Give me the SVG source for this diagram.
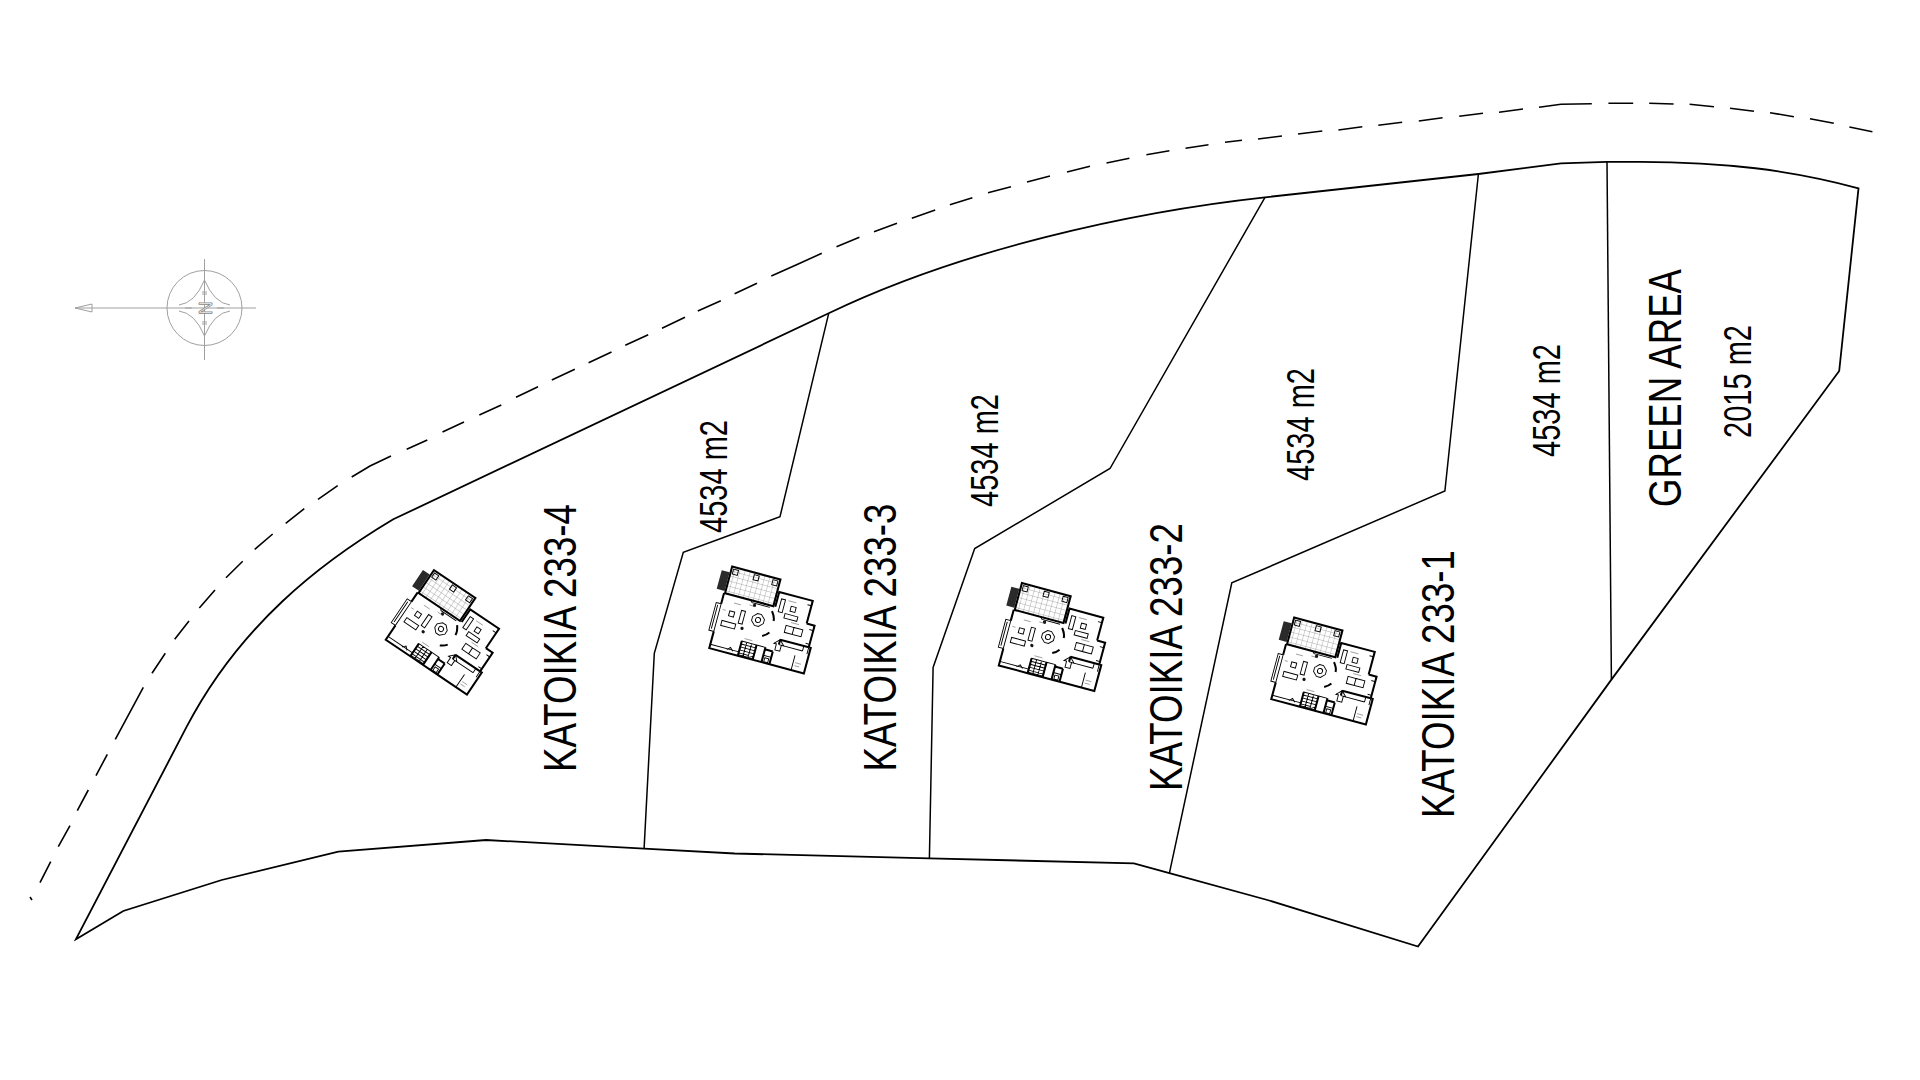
<svg xmlns="http://www.w3.org/2000/svg" xmlns:xlink="http://www.w3.org/1999/xlink" width="1920" height="1080" viewBox="0 0 1920 1080">
<style>
.plot{fill:none;stroke:#000;stroke-width:1.8;stroke-linejoin:miter}
.div{fill:none;stroke:#000;stroke-width:1.5;stroke-linejoin:miter}
.dash{fill:none;stroke:#000;stroke-width:1.6}
.big{font-family:"Liberation Sans",Arial,sans-serif;font-size:46px;fill:#000}
.area{font-family:"Liberation Sans",Arial,sans-serif;font-size:38px;fill:#000}
.cmp{fill:none;stroke:#a0a0a0;stroke-width:1}
.w{fill:none;stroke:#000;stroke-width:2}
.t{fill:none;stroke:#000;stroke-width:.9}
.f{fill:none;stroke:#555;stroke-width:.5}
.g{fill:#111;stroke:none}
</style>
<defs>
<pattern id="tile" width="5" height="5" patternUnits="userSpaceOnUse">
<path d="M5 0H0V5" fill="none" stroke="#8a8a8a" stroke-width=".7"/>
</pattern>
<g id="house">
<rect x="-47" y="-38" width="8" height="19" fill="#2a2a2a"/>
<path d="M-38 -44H11V-17H-38Z" fill="url(#tile)"/>
<path class="w" d="M-38 -44H11V-17H-38Z"/>
<path class="t" d="M-36 -42h5v5h-5zM-15 -42h5v5h-5zM4 -42h5v5h-5z" stroke-width="1.500"/>
<path class="w" d="M-39 -17V-6M-39 22V39H-10M-10 39H26M26 39H57V13H55M55 13V-9H47M47 -9V-32H13V-17"/>
<path class="t" d="M-39 -6H-44V22H-39ZM-42 -4V20M-39 35H-10M-22 36L-19 33L-16 36M47 -32V-27H43M55 -9V-4H51M55 10H51M-12 -17L-10 -15H8"/>
<path class="t" d="M-10 24H5V38H-10ZM-10 27H5M-10 30H5M-10 33H5M-10 36H5M-5 24V38M0 24V38"/>
<path class="w" d="M-10 24V39M5 24V39M14 24V39M14 26H22M22 26V39"/>
<path class="t" d="M5 24H14M14 32H22M16 34H20V38H16Z"/>
<path class="w" d="M26 13H55M26 13V18"/>
<path class="t" d="M26 18H50M21 18L26 13L31 18L28.500 18V24H23.500V18ZM55 13V20M50 13V18M44 24V39"/>
<rect class="t" x="-34" y="9.500" width="14" height="5"/>
<rect class="t" x="-29" y="-1.500" width="5" height="5"/>
<rect class="t" x="-18" y="-5" width="4" height="13"/>
<rect class="t" x="28" y="-21.500" width="5" height="5"/>
<rect class="t" x="17" y="-26" width="4" height="13"/>
<rect class="t" x="24" y="-13" width="13" height="4.500"/>
<path class="t" d="M28 -2H36V5H28ZM36 -2H45V5H36Z"/>
<path class="t" d="M-2 -6H2L6 -2V2L2 6H-2L-6 2V-2Z"/>
<circle class="t" cx="0" cy="0" r="2.500"/>
<circle class="g" cx="-7" cy="-13" r="1.600"/>
<circle class="g" cx="-13" cy="12" r="1.600"/>
<path class="w" d="M11 -12Q15 -7 15 -3M14 9Q12 12 8 14"/>
<path class="f" d="M-12 -12H-6M-27 -10H-20M24 -26H32M32 -6H40M46 31H52M46 34H51M-8 21H0M-36 -1H-33"/>
</g>
</defs>
<rect width="1920" height="1080" fill="#fff"/>
<g id="connectors">
<path id="boundary" class="plot" d="M76 939.200L123.300 911L221.700 880L338.300 851.700L486.100 840L644.100 848.600L734.700 853.500L929.400 858.400L1133.900 863.300L1169.400 873.100L1267.400 900L1418 946.500L1611.400 679.600L1839.200 371L1858.500 188.300C1790 170 1725 162 1640 161.800L1607 161.800L1561 163.300L1478.400 174L1265 197.300C1130 212 960 250 828.700 313.300L393.300 519.300C320 563 240 625 186.700 726.700Z"/>
<path class="div" d="M828.700 313.300L780 516.700L683.300 552.300L654.300 653.300L644.100 848.600"/>
<path class="div" d="M1265 197.300L1110 468.500L974.700 548.600L933.100 667.400L929.400 858.400"/>
<path class="div" d="M1478.400 174L1444.900 491L1231.800 582.900L1169.400 873.100"/>
<path class="div" d="M1607 161.800L1611.400 679.600"/>
<path class="dash" d="M30 897L32 900M40 882.700L50.700 861.700M58.300 846.700L70 825.700M77.300 810.700L88.300 790M96 775.700L107.300 754.300M115.300 739.300L143.300 687.300M152 673.300L165.300 653.300M174.700 639.300L189 621M199.300 608L215 590M226 577.700L242.700 561.300M254.700 549.300L272.700 534M285.700 523.300L304.300 508.700M318 499.300L337.700 485.700M351.700 477L370 466L391 456M406.700 449.300L427.300 440M442.500 432L464 422M479.300 415L501.300 405M516 397.300L538 386.700M551.800 380L574.800 369.300M588.600 362.700L611.500 352M625.300 345.300L648.200 334.700M662 328.300L685 317.300M697.800 311L720.800 300.700M734.600 293.700L757 283.300M771.300 276L796 265L821.800 253.300M836.500 246.700L859.400 237.300M874 231.700L897 223.300M911.800 218.300L935.200 210M949.900 204.700L972.400 197.700M988 192.700L1011 186.700M1027 182L1050 176M1067 172L1090 166.300M1106.500 163L1129.400 158.300M1146.400 154.700L1169.400 150.700M1185.500 148.300L1208.500 144.700M1225 142.300L1242 140.300M1258 139L1282 136M1298 134L1322.300 131M1338.400 130L1362.300 126.700M1378.300 125.300L1402.200 122.300M1418.800 121L1442.600 117.700M1459.200 116.300L1483 113.300M1499 112.300L1523 109M1539 107.300L1561 104.300L1591.800 103.700M1608.400 103.300L1633.200 103.300M1649.200 103.300L1673.600 104M1689.600 104.300L1714 106.700M1730 108.300L1754 111.300M1770 112.700L1793.900 116.700M1810 118.700L1833.800 123.300M1849.400 127L1872.400 131.700"/>
</g>
<g id="compass">
<circle class="cmp" cx="204.500" cy="308" r="37.500"/>
<path class="cmp" d="M204.500 259V360M256 308H75L92 304V312L75 308"/>
<path class="cmp" d="M204.500 280Q195 303 179 305M204.500 280Q214 303 230 305M204.500 336Q195 313 179 311M204.500 336Q214 313 230 311"/>
<path class="cmp" d="M203 291V295M206 291V295M203 321V325M206 321V325M185 308H192M217 308H224"/>
<text x="212" y="315" transform="rotate(-90 212 315)" style="font-family:'Liberation Sans',sans-serif;font-size:19px;fill:#fff;stroke:#888;stroke-width:.8">N</text>
</g>
<g id="house-233-4"><use xlink:href="#house" href="#house" transform="translate(441 629) rotate(34) scale(1.02)"/></g>
<g id="house-233-3"><use xlink:href="#house" href="#house" transform="translate(758 620) rotate(15) scale(1.02)"/></g>
<g id="house-233-2"><use xlink:href="#house" href="#house" transform="translate(1048 637) rotate(15) scale(1.03)"/></g>
<g id="house-233-1"><use xlink:href="#house" href="#house" transform="translate(1320 671) rotate(15) scale(1.02)"/></g>
<g id="labels">
<text class="big" transform="translate(576 772) rotate(-90)" textLength="268" lengthAdjust="spacingAndGlyphs">KATOIKIA 233-4</text>
<text class="big" transform="translate(895.500 771.500) rotate(-90)" textLength="268" lengthAdjust="spacingAndGlyphs">KATOIKIA 233-3</text>
<text class="big" transform="translate(1181.500 791) rotate(-90)" textLength="268" lengthAdjust="spacingAndGlyphs">KATOIKIA 233-2</text>
<text class="big" transform="translate(1454 818) rotate(-90)" textLength="268" lengthAdjust="spacingAndGlyphs">KATOIKIA 233-1</text>
<text class="big" transform="translate(1681 507) rotate(-90)" textLength="238" lengthAdjust="spacingAndGlyphs">GREEN AREA</text>
<text class="area" transform="translate(727 533) rotate(-90)" textLength="113" lengthAdjust="spacingAndGlyphs">4534 m2</text>
<text class="area" transform="translate(998 507) rotate(-90)" textLength="113" lengthAdjust="spacingAndGlyphs">4534 m2</text>
<text class="area" transform="translate(1314 481) rotate(-90)" textLength="113" lengthAdjust="spacingAndGlyphs">4534 m2</text>
<text class="area" transform="translate(1560 457) rotate(-90)" textLength="113" lengthAdjust="spacingAndGlyphs">4534 m2</text>
<text class="area" transform="translate(1751 438) rotate(-90)" textLength="113" lengthAdjust="spacingAndGlyphs">2015 m2</text>
</g>
</svg>
